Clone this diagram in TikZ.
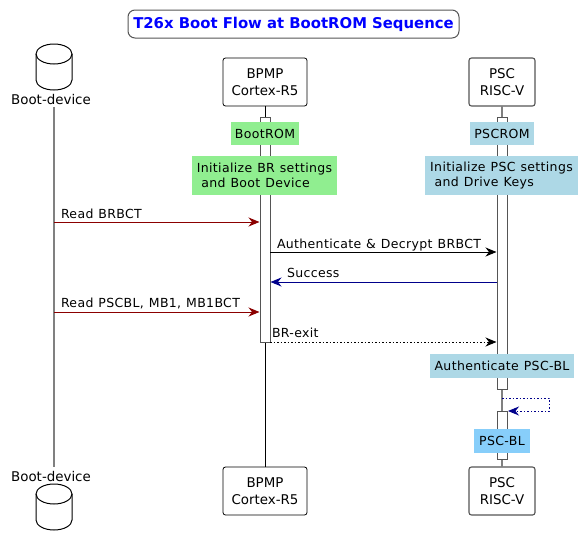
\documentclass[tikz,border=0pt]{standalone}
\usepackage{fontspec}
\setmainfont{DejaVu Sans}
\newfontfamily\labelfont[LetterSpace=2.8,WordSpace=1.15]{DejaVu Sans}
\usetikzlibrary{arrows.meta}
\definecolor{noteblue}{HTML}{ADD8E6}
\definecolor{notegreen}{HTML}{90EE90}
\definecolor{notesky}{HTML}{87CEFA}
\definecolor{msgred}{HTML}{8B0000}
\definecolor{msgblue}{HTML}{00008B}
\definecolor{edgegrey}{HTML}{555555}
\tikzset{
  x=1pt,y=-1pt,
  every node/.style={inner sep=0pt,outer sep=0pt},
  titlebox/.style={draw=edgegrey,line width=1pt,rounded corners=7pt,fill=white,minimum width=331pt,minimum height=28pt,text=blue,font=\fontsize{14.85}{17}\selectfont\bfseries},
  partbox/.style={draw=black,line width=0.8pt,rounded corners=2.5pt,fill=white,minimum height=48pt,align=center,font=\fontsize{13.4}{17}\selectfont},
  pscbox/.style={partbox,draw=edgegrey,line width=1.1pt},
  actbox/.style={draw=edgegrey,line width=1pt,fill=white,minimum width=10pt},
  noteb/.style={minimum height=23.5pt,align=left,font=\labelfont\fontsize{12.5}{15.5}\selectfont},
  lifeg/.style={draw=gray,line width=1.3pt},
  lifek/.style={draw=black,line width=0.8pt},
  msg/.style={line width=1pt,-{Stealth[length=11pt,width=9pt,inset=3.5pt]}},
  dotmsg/.style={dash pattern=on 1.5pt off 2pt},
  msglabel/.style={anchor=base west,font=\labelfont\fontsize{12.5}{14}\selectfont},
  dbcyl/.style={draw=black,line width=1pt,fill=white},
  dblabel/.style={font=\fontsize{13.4}{16}\selectfont}
}
\newcommand{\dbicon}[2]{%
  \begin{scope}[shift={(#1,#2)}]
    \path[dbcyl] (-18,10) arc[start angle=180,end angle=0,x radius=18pt,y radius=10pt]
      -- (18,36) arc[start angle=0,end angle=-180,x radius=18pt,y radius=10pt] -- cycle;
    \draw[dbcyl,fill=none] (-18,10) arc[start angle=180,end angle=360,x radius=18pt,y radius=10pt];
  \end{scope}}
\begin{document}
\begin{tikzpicture}
\useasboundingbox (0,0) rectangle (584,547);
\node[titlebox] (title) at (293.5,24) {T26x Boot Flow at BootROM Sequence};
% participants
\dbicon{54}{44}
\dbicon{54}{484}
\node[dblabel] (dbtoplabel) at (51,99) {Boot-device};
\node[dblabel] (dbbotlabel) at (51,476) {Boot-device};
\node[partbox,minimum width=84pt] (bpmptop) at (265,82) {BPMP\\Cortex-R5};
\node[pscbox,minimum width=66pt] (psctop) at (502,82) {PSC\\RISC-V};
\node[partbox,minimum width=84pt] (bpmpbot) at (265,491) {BPMP\\Cortex-R5};
\node[pscbox,minimum width=66pt] (pscbot) at (502,491) {PSC\\RISC-V};
% lifelines
\coordinate (dbstart) at (54,107);
\coordinate (dbend) at (54,467);
\draw[lifeg] (dbstart) -- (dbend);
\draw[lifek] (bpmptop.south) -- (bpmpbot.north);
\draw[lifeg] (psctop.south) -- (pscbot.north);
% activations
\node[actbox,minimum height=225pt] (bpmpact) at (265,229.5) {};
\node[actbox,minimum height=272pt] (pscact) at (502,253) {};
\node[actbox,minimum height=48pt] (pscact2) at (502,435) {};
% notes
\node[noteb,fill=notegreen,minimum width=68pt] (bootrom) at (265,133.5) {BootROM};
\node[noteb,fill=notegreen,minimum width=145pt,minimum height=39pt] (initbr) at (264.5,175.5) {Initialize BR settings\\\hspace*{4.5pt}and Boot Device};
\node[noteb,fill=noteblue,minimum width=64pt] (pscrom) at (502,133.5) {PSCROM};
\node[noteb,fill=noteblue,minimum width=153pt,minimum height=39pt] (initpsc) at (501.5,175.5) {Initialize PSC settings\\\hspace*{4.5pt}and Drive Keys};
\node[noteb,fill=noteblue,minimum width=144pt] (authpsc) at (502,366) {Authenticate PSC-BL};
\node[noteb,fill=notesky,minimum width=56pt] (pscbl) at (502,441) {PSC-BL};
% message ends
\coordinate (m1a) at (54,222);
\coordinate (m1b) at (259.5,222);
\coordinate (m2a) at (270,252);
\coordinate (m2b) at (496.5,252);
\coordinate (m3a) at (497,282);
\coordinate (m3b) at (270.5,282);
\coordinate (m4a) at (54,312);
\coordinate (m4b) at (259.5,312);
\coordinate (m5a) at (270,342);
\coordinate (m5b) at (496.5,342);
\coordinate (s1) at (502,398);
\coordinate (s2) at (549,398);
\coordinate (s3) at (549,411);
\coordinate (s4) at (508,411);
% messages
\draw[msg,draw=msgred] (m1a) -- (m1b);
\draw[msg,draw=black] (m2a) -- (m2b);
\draw[msg,draw=msgblue] (m3a) -- (m3b);
\draw[msg,draw=msgred] (m4a) -- (m4b);
\draw[msg,dotmsg,draw=black] (m5a) -- (m5b);
\draw[msg,dotmsg,draw=msgblue] (s1) -- (s2) -- (s3) -- (s4);
% labels
\node[msglabel] (l1) at (61,218) {Read BRBCT};
\node[msglabel] (l2) at (277,248) {Authenticate \& Decrypt BRBCT};
\node[msglabel] (l3) at (287,277) {Success};
\node[msglabel] (l4) at (61,307) {Read PSCBL, MB1, MB1BCT};
\node[msglabel] (l5) at (272,337) {BR-exit};
\end{tikzpicture}
\end{document}
